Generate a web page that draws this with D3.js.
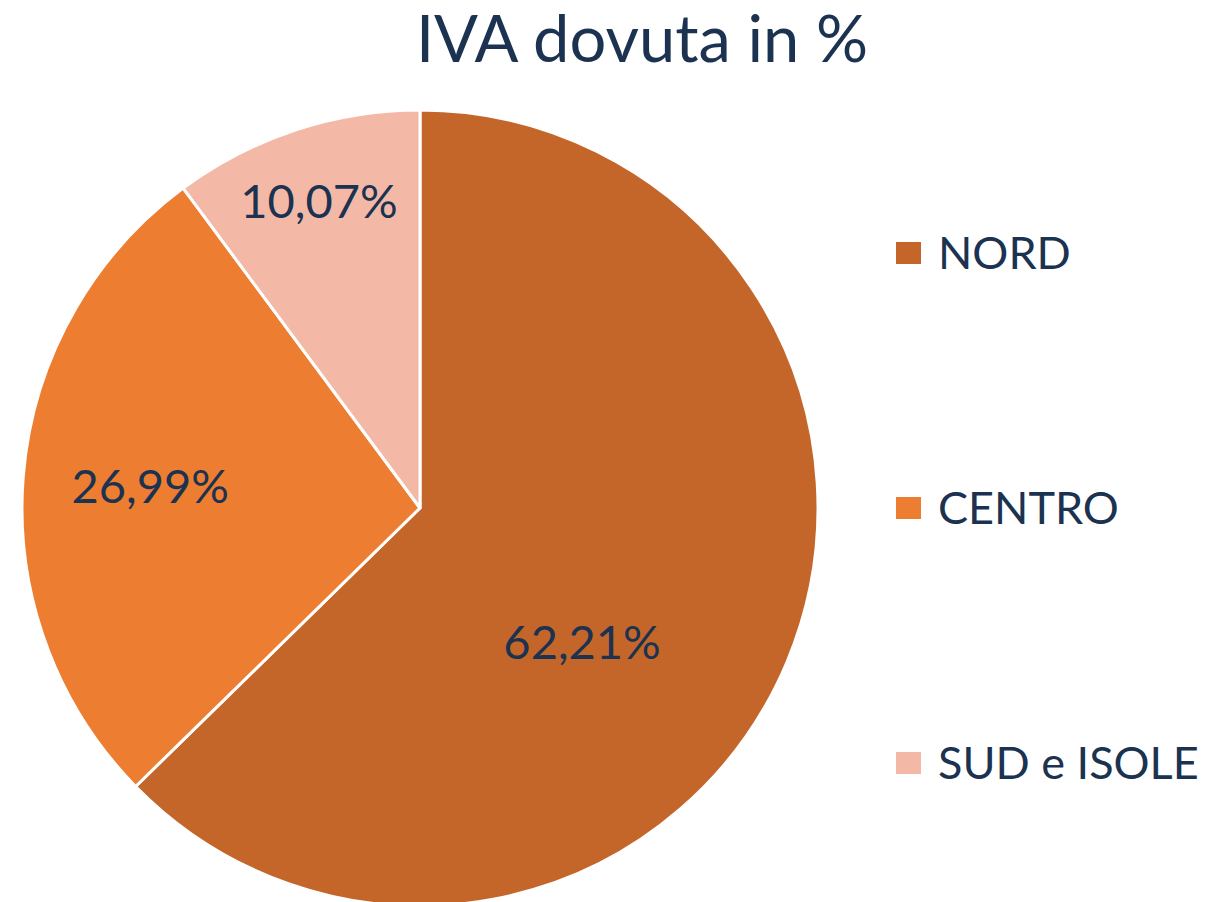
<!DOCTYPE html>
<html>
<head>
<meta charset="utf-8">
<script src="https://cdn.jsdelivr.net/npm/d3@7"></script>
<style>
  body { margin: 0; background: #fff; }
  text { font-family: Lato, "Open Sans", sans-serif; }
</style>
</head>
<body>
<div id="chart"></div>
<script>
var width = 1227,
    height = 902;

var title = 'IVA dovuta in %';
var categories = ['NORD', 'CENTRO', 'SUD e ISOLE'];
var values = [62.21, 26.99, 10.07];
var labels = ['62,21%', '26,99%', '10,07%'];
var colors = ['#c4662a', '#ed7d31', '#f4b9a6'];

// where each data label sits: fraction of radius, and angle nudge (deg)
var labelRadius = [0.53, 0.68, 0.81];
var labelNudge = [17, 0, 0];

var cx = 420, cy = 508, radius = 398;
var textColor = '#1b3250';

var svg = d3.select('#chart').append('svg')
    .attr('width', width)
    .attr('height', height);

svg.append('text')
    .attr('x', 642)
    .attr('y', 62)
    .attr('text-anchor', 'middle')
    .attr('font-size', '65px')
    .attr('fill', textColor)
    .text(title);

var color = d3.scaleOrdinal()
    .domain(categories)
    .range(colors);

var pie = d3.pie()
    .sort(null)
    .value(function(d, i) { return values[i]; });

var arc = d3.arc()
    .innerRadius(0)
    .outerRadius(radius);

var slices = pie(categories);

var g = svg.append('g')
    .attr('transform', 'translate(' + cx + ',' + cy + ')');

g.selectAll('.slice')
    .data(slices)
    .enter().append('path')
    .attr('class', 'slice')
    .attr('d', arc)
    .attr('fill', function(d) { return color(d.data); })
    .attr('stroke', '#fff')
    .attr('stroke-width', 3)
    .attr('stroke-linejoin', 'round');

g.selectAll('.label')
    .data(slices)
    .enter().append('text')
    .attr('class', 'label')
    .attr('transform', function(d, i) {
        var a = (d.startAngle + d.endAngle) / 2 + labelNudge[i] * Math.PI / 180;
        var r = radius * labelRadius[i];
        return 'translate(' + (Math.sin(a) * r) + ',' + (-Math.cos(a) * r) + ')';
    })
    .attr('dy', '0.35em')
    .attr('text-anchor', 'middle')
    .attr('font-size', '47px')
    .attr('fill', textColor)
    .text(function(d, i) { return labels[i]; });

// legend
var legendY = d3.scalePoint()
    .domain(categories)
    .range([253, 763]);

var legend = svg.selectAll('.legend')
    .data(categories)
    .enter().append('g')
    .attr('class', 'legend')
    .attr('transform', function(d) { return 'translate(896,' + legendY(d) + ')'; });

legend.append('rect')
    .attr('x', 0)
    .attr('y', -11)
    .attr('width', 25)
    .attr('height', 22)
    .attr('fill', function(d) { return color(d); });

legend.append('text')
    .attr('x', 42)
    .attr('dy', '0.35em')
    .attr('font-size', '45px')
    .attr('fill', textColor)
    .text(function(d) { return d; });
</script>
</body>
</html>
